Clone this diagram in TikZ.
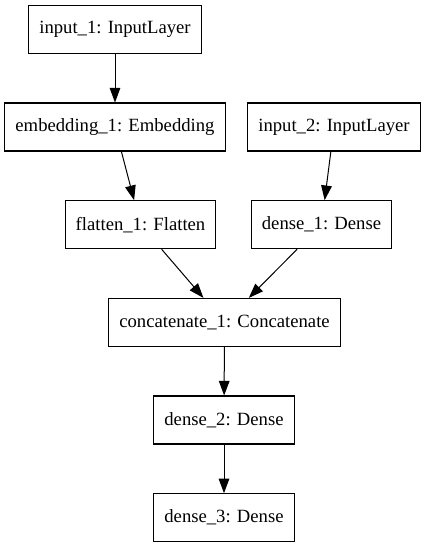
\documentclass[tikz,border=0pt]{standalone}
\usepackage{fontspec}
\setmainfont{Liberation Serif}
\usepackage{tikz}
\usetikzlibrary{arrows.meta}

\begin{document}
\begin{tikzpicture}[x=0.75pt,y=-0.75pt,
    layer/.style={draw,line width=0.8pt,minimum height=36pt,inner xsep=8pt,
      font=\rmfamily\fontsize{14}{16.8}\selectfont},
    edge/.style={line width=0.75pt,-{Triangle[length=11pt,width=8pt]}}]
   \useasboundingbox (0,0) rectangle (427,547);
   \node[layer] (in1) at (115,29.3){input\_1: InputLayer};
   \node[layer] (emb) at (115,127){embedding\_1: Embedding};
   \node[layer] (in2) at (334,127){input\_2: InputLayer};
   \node[layer] (flat) at (140.5,224.7){flatten\_1: Flatten};
   \node[layer] (den1) at (321.5,224.7){dense\_1: Dense};
   \node[layer] (cat) at (224.5,322.4){concatenate\_1: Concatenate};
   \node[layer] (den2) at (224,420){dense\_2: Dense};
   \node[layer] (den3) at (224,517.7){dense\_3: Dense};
   \draw[edge] (in1) -- (emb);
   \draw[edge] (emb) -- (flat);
   \draw[edge] (in2) -- (den1);
   \draw[edge] (flat) -- (cat);
   \draw[edge] (den1) -- (cat);
   \draw[edge] (cat) -- (den2);
   \draw[edge] (den2) -- (den3);
\end{tikzpicture}
\end{document}
